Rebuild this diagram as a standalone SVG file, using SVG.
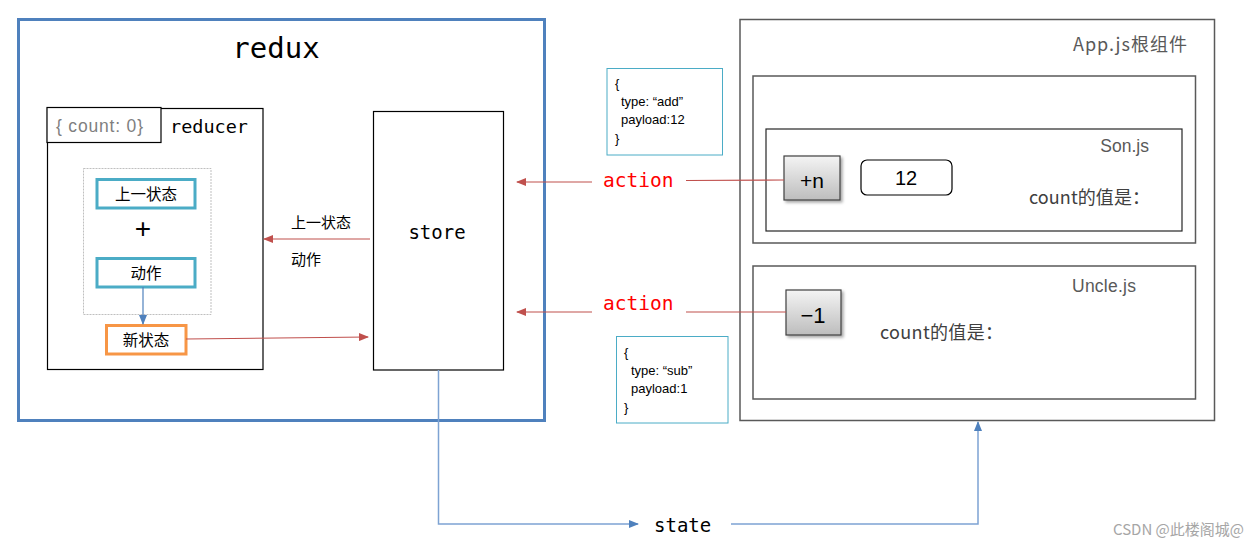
<svg xmlns="http://www.w3.org/2000/svg" width="1256" height="549" viewBox="0 0 1256 549">
<defs>
<marker id="ar" markerWidth="10" markerHeight="8" refX="9" refY="4" orient="auto" markerUnits="userSpaceOnUse"><path d="M0,0 L10,4 L0,8 Z" fill="#c0504d"/></marker>
<marker id="ab" markerWidth="10" markerHeight="8" refX="9" refY="4" orient="auto" markerUnits="userSpaceOnUse"><path d="M0,0 L10,4 L0,8 Z" fill="#4f81bd"/></marker>
<linearGradient id="btn" x1="0" y1="0" x2="0" y2="1"><stop offset="0" stop-color="#f4f4f4"/><stop offset="1" stop-color="#bdbdbd"/></linearGradient>
<filter id="sh" x="-20%" y="-20%" width="150%" height="150%"><feDropShadow dx="2" dy="2" stdDeviation="1.5" flood-color="#000" flood-opacity="0.35"/></filter>
</defs>
<style>
.mono{font-family:"DejaVu Sans Mono","Liberation Mono",monospace}
.sans{font-family:"Liberation Sans","Noto Sans CJK SC",sans-serif}
.cjk{font-family:"Noto Sans CJK SC","Liberation Sans",sans-serif}
.blk{fill:none;stroke:#000;stroke-width:1.2}
.teal{fill:#fff;stroke:#4bacc6;stroke-width:3}
.json{fill:#fff;stroke:#4bacc6;stroke-width:1}
.gray{fill:none;stroke:#595959;stroke-width:1.5}
.red{stroke:#c0504d;stroke-width:1.2;fill:none}
.blue{stroke:#7ea3d3;stroke-width:1.5;fill:none}
.btn{fill:url(#btn);stroke:#404040;stroke-width:1.2;filter:url(#sh)}
</style>
<rect width="1256" height="549" fill="#fff"/>

<g id="redux">
<rect x="18.5" y="19.5" width="526" height="401" fill="none" stroke="#4f81bd" stroke-width="3"/>
<text x="276" y="58" class="mono" font-size="29" text-anchor="middle">redux</text>
</g>
<g id="reducer">
<rect x="47.5" y="108.5" width="215.5" height="261" class="blk"/>
<text x="170" y="133" class="mono" font-size="18.5">reducer</text>
</g>
<g id="count0">
<rect x="47" y="107.5" width="114" height="35" fill="#fff" stroke="#000" stroke-width="1.2"/>
<text x="56" y="132" class="sans" font-size="17.5" fill="#7f7f7f" textLength="87">{ count: 0}</text>
</g>
<g id="dashbox">
<rect x="83.5" y="168.5" width="127.5" height="146" fill="none" stroke="#bfbfbf" stroke-width="1" stroke-dasharray="2,1"/>
</g>
<g id="prev">
<rect x="97" y="179.5" width="98" height="28.5" class="teal"/>
<text x="146" y="199.5" class="cjk" font-size="15.5" text-anchor="middle">上一状态</text>
</g>
<g id="plus">
<text x="143" y="238" class="sans" font-size="28" text-anchor="middle">+</text>
</g>
<g id="act">
<rect x="97" y="258.5" width="98" height="28.5" class="teal"/>
<text x="146" y="278.5" class="cjk" font-size="15.5" text-anchor="middle">动作</text>
</g>
<g id="newstate">
<rect x="106.5" y="325.5" width="79.5" height="28.5" fill="#fff" stroke="#f79646" stroke-width="3"/>
<text x="146" y="345.5" class="cjk" font-size="15.5" text-anchor="middle">新状态</text>
</g>
<g id="store">
<rect x="373.5" y="111.5" width="130" height="258.5" class="blk"/>
<text x="437" y="239" class="mono" font-size="19" text-anchor="middle">store</text>
</g>
<g id="json1">
<rect x="607" y="68.5" width="115.5" height="86.5" class="json"/>
<g class="sans" font-size="13" fill="#000">
<text x="615" y="88">{</text>
<text x="621" y="106">type: “add”</text>
<text x="621" y="124">payload:12</text>
<text x="615" y="143">}</text>
</g>
</g>
<g id="json2">
<rect x="616.5" y="336.5" width="111.5" height="86.5" class="json"/>
<g class="sans" font-size="13" fill="#000">
<text x="624" y="357">{</text>
<text x="631" y="375">type: “sub”</text>
<text x="631" y="393">payload:1</text>
<text x="624" y="412">}</text>
</g>
</g>
<g id="app">
<rect x="740" y="19.5" width="474.5" height="401" class="gray"/>
<text x="1187" y="51" class="cjk" font-size="18" fill="#595959" text-anchor="end" textLength="114">App.js根组件</text>
</g>
<g id="sonwrap">
<rect x="753" y="76" width="442.5" height="167" class="gray"/>
</g>
<g id="son">
<rect x="766" y="129" width="416" height="102" fill="none" stroke="#262626" stroke-width="1.2"/>
<text x="1149" y="152" class="sans" font-size="17.5" fill="#595959" text-anchor="end">Son.js</text>
<text x="1150" y="204" class="cjk" font-size="18" fill="#404040" text-anchor="end" textLength="121">count的值是：</text>
</g>
<g id="plusn">
<rect x="784" y="156" width="56" height="44" class="btn"/>
<text x="812" y="188" class="sans" font-size="21" text-anchor="middle">+n</text>
</g>
<g id="val12">
<rect x="861" y="160" width="91" height="35" rx="6" fill="#fff" stroke="#000" stroke-width="1.2"/>
<text x="906" y="185" class="sans" font-size="20" text-anchor="middle">12</text>
</g>
<g id="uncle">
<rect x="753" y="266" width="442.5" height="133" class="gray"/>
<text x="1136" y="292" class="sans" font-size="17.5" fill="#595959" text-anchor="end" textLength="64">Uncle.js</text>
<text x="880" y="339" class="cjk" font-size="18" fill="#404040" textLength="123">count的值是：</text>
</g>
<g id="minus1">
<rect x="786" y="290" width="55" height="45" class="btn"/>
<text x="813" y="323" class="sans" font-size="22" text-anchor="middle">−1</text>
</g>

<g id="connectors">
<line x1="370" y1="239" x2="264" y2="239" class="red" marker-end="url(#ar)"/>
<line x1="186" y1="339" x2="368" y2="337" class="red" marker-end="url(#ar)"/>
<line x1="143" y1="287" x2="143" y2="324" stroke="#4f81bd" stroke-width="1.2" marker-end="url(#ab)"/>
<line x1="784" y1="180" x2="686" y2="180.5" class="red"/>
<line x1="592" y1="182" x2="517" y2="182" class="red" marker-end="url(#ar)"/>
<line x1="786" y1="312" x2="686" y2="312" class="red"/>
<line x1="592" y1="312" x2="517" y2="312" class="red" marker-end="url(#ar)"/>
<polyline points="438.5,370 438.5,524 638,524" class="blue" marker-end="url(#ab)"/>
<polyline points="731,524 978,524 978,422" class="blue" marker-end="url(#ab)"/>
</g>
<g id="labels">
<text x="291" y="228" class="cjk" font-size="15">上一状态</text>
<text x="291" y="265" class="cjk" font-size="15">动作</text>
<text x="603" y="187" class="mono" font-size="19.5" fill="#ff0000">action</text>
<text x="603" y="310" class="mono" font-size="19.5" fill="#ff0000">action</text>
<text x="654" y="532" class="mono" font-size="19">state</text>
</g>
<g id="watermark">
<text x="1244" y="535" class="cjk" font-size="15" fill="#a6a6a6" text-anchor="end">CSDN @此楼阁城@</text>
</g>
</svg>
